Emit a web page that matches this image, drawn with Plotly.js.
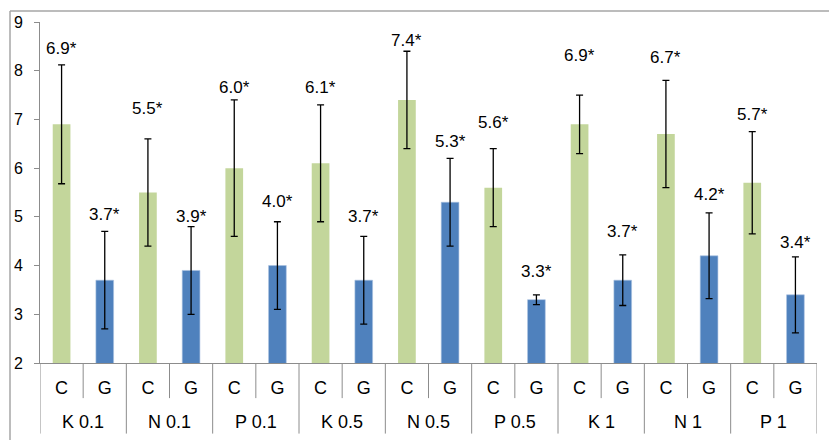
<!DOCTYPE html>
<html>
<head>
<meta charset="utf-8">
<script src="https://cdn.plot.ly/plotly-3.0.1.min.js"></script>
<style>
  html, body { margin: 0; padding: 0; background: #fff; }
  #chart { width: 829px; height: 440px; }
</style>
</head>
<body>
<div id="chart"></div>
<script>
// Treatment groups and the two conditions measured in each
const groups = ['K 0.1', 'N 0.1', 'P 0.1', 'K 0.5', 'N 0.5', 'P 0.5', 'K 1', 'N 1', 'P 1'];
const conditions = ['C', 'G'];

// Mean values
const cValues = [6.9, 5.5, 6.0, 6.1, 7.4, 5.6, 6.9, 6.7, 5.7];
const gValues = [3.7, 3.9, 4.0, 3.7, 5.3, 3.3, 3.7, 4.2, 3.4];

// Standard deviations (error bars)
const cErrors = [1.22, 1.1, 1.4, 1.2, 1.0, 0.8, 0.6, 1.1, 1.05];
const gErrors = [1.0, 0.9, 0.9, 0.9, 0.9, 0.1, 0.52, 0.88, 0.78];

// Height (in axis units) at which each value label sits
const cLabelY = [8.46, 7.23, 7.65, 7.66, 8.63, 6.93, 8.32, 8.28, 7.11];
const gLabelY = [5.04, 5.01, 5.32, 5.01, 6.54, 3.87, 4.70, 5.45, 4.47];

const FONT = 'Liberation Sans, Arial, Helvetica, sans-serif';
const GREY = '#8c8c8c';

// Each group takes two slots: C at 2i, G at 2i+1
const cX = groups.map((_, i) => 2 * i);
const gX = groups.map((_, i) => 2 * i + 1);
const tickVals = [];
const tickText = [];
groups.forEach((_, i) => {
  conditions.forEach((c, j) => { tickVals.push(2 * i + j); tickText.push(c); });
});

const errStyle = { type: 'data', visible: true, color: '#000', thickness: 1.3, width: 3.5 };

const traces = [
  {
    type: 'bar', x: cX, y: cValues, base: 0, width: 0.41,
    marker: { color: '#c3d69b', line: { width: 0 } },
    error_y: Object.assign({ array: cErrors }, errStyle),
    hoverinfo: 'skip', showlegend: false
  },
  {
    type: 'bar', x: gX, y: gValues, width: 0.41,
    marker: { color: '#4f81bd', line: { color: '#a9c1e0', width: 0.6 } },
    error_y: Object.assign({ array: gErrors }, errStyle),
    hoverinfo: 'skip', showlegend: false
  }
];

const annotations = [];
groups.forEach((g, i) => {
  annotations.push({
    x: cX[i], y: cLabelY[i], xref: 'x', yref: 'y', text: cValues[i].toFixed(1) + '*',
    showarrow: false, font: { family: FONT, size: 17, color: '#000' }
  });
  annotations.push({
    x: gX[i], y: gLabelY[i], xref: 'x', yref: 'y', text: gValues[i].toFixed(1) + '*',
    showarrow: false, font: { family: FONT, size: 17, color: '#000' }
  });
  // group name under its two condition labels
  annotations.push({
    x: 2 * i + 0.5, y: -0.172, xref: 'x', yref: 'paper', text: g,
    showarrow: false, yanchor: 'middle', font: { family: FONT, size: 18, color: '#000' }
  });
});

const shapes = [];
// short dividers between C and G
groups.forEach((_, i) => {
  shapes.push({
    type: 'line', xref: 'x', yref: 'paper', x0: 2 * i + 0.5, x1: 2 * i + 0.5,
    y0: 0, y1: -0.103, line: { color: GREY, width: 1 }
  });
});
// long dividers between groups
for (let i = 0; i <= groups.length; i++) {
  shapes.push({
    type: 'line', xref: 'x', yref: 'paper', x0: 2 * i - 0.5, x1: 2 * i - 0.5,
    y0: 0, y1: -0.207, line: { color: GREY, width: 1 }
  });
}
// outer frame (top and left edges)
shapes.push({ type: 'line', xref: 'paper', yref: 'paper', x0: -0.0386, x1: 1.1, y0: 1.032, y1: 1.032,
  line: { color: '#a6a6a6', width: 1.5 } });
shapes.push({ type: 'line', xref: 'paper', yref: 'paper', x0: -0.0386, x1: -0.0386, y0: 1.032, y1: -0.3,
  line: { color: '#a6a6a6', width: 1.5 } });

const layout = {
  width: 829, height: 440,
  margin: { l: 40, r: 12, t: 22, b: 77 },
  paper_bgcolor: '#fff', plot_bgcolor: '#fff',
  barmode: 'overlay',
  font: { family: FONT, size: 16, color: '#000' },
  xaxis: {
    range: [-0.5, 17.5], tickmode: 'array', tickvals: tickVals, ticktext: tickText,
    showline: true, linecolor: GREY, linewidth: 1, ticks: '', showgrid: false, zeroline: false,
    tickfont: { family: FONT, size: 18, color: '#000' }, ticklabelstandoff: 8, fixedrange: true
  },
  yaxis: {
    range: [2, 9], dtick: 1, tick0: 2, showline: true, linecolor: GREY, linewidth: 1,
    ticks: 'outside', ticklen: 5, tickcolor: GREY, showgrid: false, zeroline: false,
    tickfont: { family: FONT, size: 16, color: '#000' }, ticklabelstandoff: 8, fixedrange: true
  },
  annotations: annotations,
  shapes: shapes
};

Plotly.newPlot('chart', traces, layout, { displayModeBar: false, staticPlot: true });
</script>
</body>
</html>
